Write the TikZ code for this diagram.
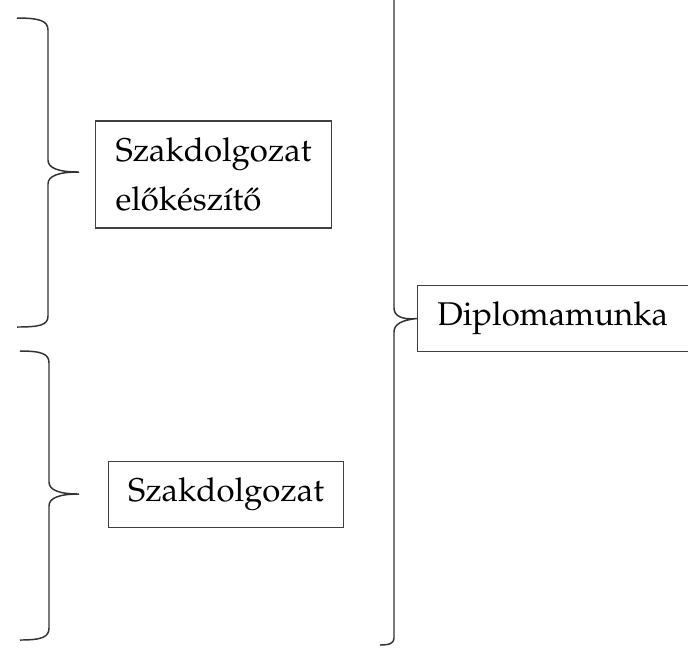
\documentclass[tikz,border=0pt]{standalone}
\usepackage[T1]{fontenc}
\usepackage{mathpazo}

\tikzset{
  dbox/.style={draw=black!75,rectangle,line width=0.4pt,
               inner xsep=6pt,inner ysep=5pt,align=left},
  brc/.style={draw=black!80,line width=0.45pt}}

\begin{document}
\begin{tikzpicture}
[x=0.304pt,y=-0.304pt]
\useasboundingbox (0,0) rectangle (688,648);
\clip (0,0) rectangle (688,648);

\node (elo) at (213.5,174.5) [dbox] {Szakdolgozat\\[3pt]el\H{o}k\'esz\'\i t\H{o}};
\node (szd) at (226,494.5) [dbox] {Szakdolgozat};
\node (dip) at (417,318.5) [dbox, anchor=west, text width=82pt] {Diplomamunka};

% kapcsos zárójelek
\coordinate (t1) at (79,172);
\coordinate (t2) at (79,494);
\draw [brc] (17,18) .. controls (40,18) and (48,21) .. (48,30) -- (48,160)
  .. controls (48,168) and (58,172) .. (t1)
  .. controls (58,172) and (48,176) .. (48,184) -- (48,316)
  .. controls (48,325) and (40,327) .. (17,327);
\draw [brc] (20,351) .. controls (42,351) and (49,354) .. (49,363) -- (49,482)
  .. controls (49,490) and (59,494) .. (t2)
  .. controls (59,494) and (49,498) .. (49,506) -- (49,628)
  .. controls (49,637) and (42,640) .. (20,640);
\draw [brc] (380,-12) .. controls (390,-12) and (394,-9) .. (394,-3) -- (394,308)
  .. controls (394,316) and (402,320) .. (dip.west)
  .. controls (402,320) and (394,324) .. (394,332) -- (394,638)
  .. controls (394,643) and (390,645) .. (380,645);
\end{tikzpicture}
\end{document}
